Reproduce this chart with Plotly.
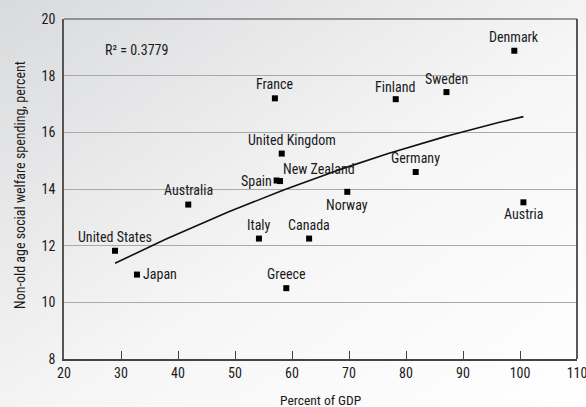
import base64
import numpy as np
import plotly.graph_objects as go

countries = ["United States", "Japan", "Australia", "Italy", "Greece", "Canada",
             "France", "United Kingdom", "Spain", "New Zealand", "Norway",
             "Germany", "Finland", "Sweden", "Denmark", "Austria"]
gdp_pct = [28.95, 32.8, 41.8, 54.2, 59.0, 63.0,
           57.0, 58.2, 57.3, 57.9, 69.7,
           81.7, 78.2, 87.1, 99.0, 100.6]
welfare_pct = [11.82, 10.98, 13.45, 12.25, 10.5, 12.25,
               17.2, 15.25, 14.3, 14.28, 13.9,
               14.6, 17.17, 17.42, 18.88, 13.53]
r2_text = "R² = 0.3779"
x_title = "Percent of GDP"
y_title = "Non-old age social welfare spending, percent"
x_ticks = [20, 30, 40, 50, 60, 70, 80, 90, 100, 110]
y_ticks = [8, 10, 12, 14, 16, 18, 20]

# label placement (style): (xanchor, yanchor, xshift, yshift)
label_pos = {
    "United States": ("center", "bottom", 0, 4),
    "Japan": ("left", "middle", 4, 1),
    "Australia": ("center", "bottom", 0, 5),
    "Italy": ("center", "bottom", 0, 4),
    "Greece": ("center", "bottom", 0, 4),
    "Canada": ("center", "bottom", 0, 4),
    "France": ("center", "bottom", 0, 4),
    "United Kingdom": ("center", "bottom", 10, 4),
    "Spain": ("right", "middle", -3, 0),
    "New Zealand": ("left", "bottom", 1, 2),
    "Norway": ("center", "top", 0, -3),
    "Germany": ("center", "bottom", 0, 4),
    "Finland": ("center", "bottom", -1, 2),
    "Sweden": ("center", "bottom", 0, 3),
    "Denmark": ("center", "bottom", 0, 4),
    "Austria": ("center", "top", 0, -2),
}

FONT = "Liberation Sans Narrow, Arial Narrow, Roboto Condensed, Liberation Sans, Arial, sans-serif"
TXT = "#1a1a1a"

# quadratic trend fitted to the data
coef = np.polyfit(gdp_pct, welfare_pct, 2)
tx = np.linspace(min(gdp_pct), max(gdp_pct), 80)
ty = np.polyval(coef, tx)

fig = go.Figure()
fig.add_trace(go.Scatter(x=tx, y=ty, mode="lines",
                         line=dict(color="#111111", width=1.6),
                         hoverinfo="skip", showlegend=False))
fig.add_trace(go.Scatter(x=gdp_pct, y=welfare_pct, mode="markers",
                         marker=dict(symbol="square", size=6, color="#000000"),
                         text=countries, showlegend=False))

W, H = 586, 407
L, R, T, B = 64, 9, 19, 48
pw, ph = W - L - R, H - T - B

annotations = []
for c, x, y in zip(countries, gdp_pct, welfare_pct):
    xa, ya, xs, ys = label_pos[c]
    annotations.append(dict(x=x, y=y, xref="x", yref="y", text=c, showarrow=False,
                            xanchor=xa, yanchor=ya, xshift=xs, yshift=ys,
                            font=dict(family=FONT, size=14, color=TXT)))
annotations.append(dict(x=26.8, y=18.9, xref="x", yref="y", text=r2_text,
                        showarrow=False, xanchor="left", yanchor="middle",
                        font=dict(family=FONT, size=14, color=TXT)))
annotations.append(dict(x=0.5, y=-41 / ph, xref="paper", yref="paper", text=x_title,
                        showarrow=False, xanchor="center", yanchor="middle",
                        font=dict(family=FONT, size=13.5, color=TXT)))
annotations.append(dict(x=-44 / pw, y=(359 - 185) / ph, xref="paper", yref="paper",
                        text=y_title, showarrow=False, xanchor="center", yanchor="middle",
                        textangle=-90, font=dict(family=FONT, size=14, color=TXT)))

svg = (f'<svg xmlns="http://www.w3.org/2000/svg" width="{W}" height="{H}" preserveAspectRatio="none">'
       '<defs><linearGradient id="g" x1="0" y1="0" x2="1" y2="1">'
       '<stop offset="0" stop-color="#d9dadc"/><stop offset="0.55" stop-color="#f6f6f6"/>'
       '<stop offset="1" stop-color="#ffffff"/></linearGradient></defs>'
       f'<rect width="{W}" height="{H}" fill="url(#g)"/></svg>')
src = "data:image/svg+xml;base64," + base64.b64encode(svg.encode()).decode()

fig.update_layout(
    width=W, height=H,
    margin=dict(l=L, r=R, t=T, b=B),
    paper_bgcolor="#eeeeee", plot_bgcolor="rgba(0,0,0,0)",
    font=dict(family=FONT, size=14, color=TXT),
    annotations=annotations,
    images=[dict(source=src, xref="paper", yref="paper",
                 x=-L / pw, y=1 + T / ph, sizex=W / pw, sizey=H / ph,
                 xanchor="left", yanchor="top", sizing="stretch", layer="below")],
    shapes=[
        dict(type="line", xref="paper", yref="paper", x0=0, x1=1, y0=1, y1=1,
             line=dict(color="#7a7a7a", width=1.5)),
        dict(type="line", xref="paper", yref="paper", x0=1, x1=1, y0=0, y1=1,
             line=dict(color="#222222", width=1.5)),
    ],
    xaxis=dict(range=[20, 110], tickvals=x_ticks, showgrid=False, zeroline=False,
               showline=True, linecolor="#444444", linewidth=1.5,
               ticks="inside", ticklen=8, tickcolor="#444444", tickwidth=1.2,
               tickfont=dict(size=14), automargin=False, ticklabeloverflow="allow"),
    yaxis=dict(range=[8, 20], tickvals=y_ticks, showgrid=True, gridcolor="#a9a9a9",
               gridwidth=1, zeroline=False, showline=True, linecolor="#555555",
               linewidth=1.5, ticks="", ticklabelstandoff=4, tickfont=dict(size=14),
               automargin=False, ticklabeloverflow="allow"),
)

fig.write_html("out.html", config={"displayModeBar": False},
               post_script="document.body.style.margin='0';document.body.style.overflow='hidden';")
